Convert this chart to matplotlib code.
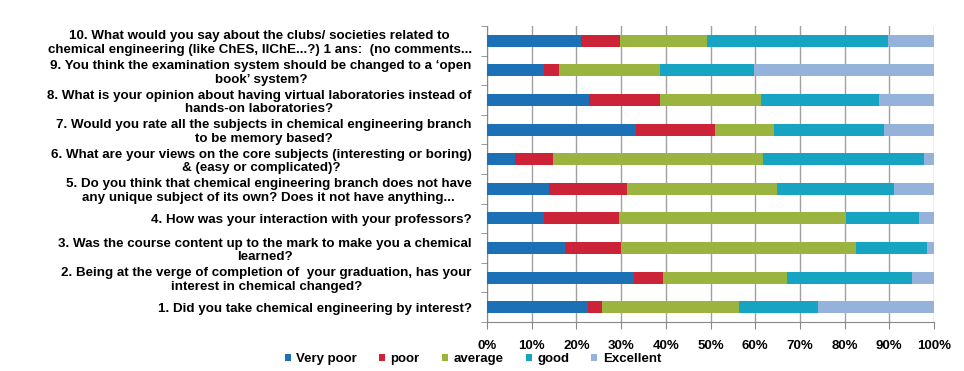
import matplotlib
matplotlib.use("Agg")
import matplotlib.pyplot as plt
import numpy as np
from matplotlib.ticker import PercentFormatter

questions = [
    "1. Did you take chemical engineering by interest?",
    "2. Being at the verge of completion of  your graduation, has your\ninterest in chemical changed?",
    "3. Was the course content up to the mark to make you a chemical\nlearned?",
    "4. How was your interaction with your professors?",
    "5. Do you think that chemical engineering branch does not have\nany unique subject of its own? Does it not have anything...",
    "6. What are your views on the core subjects (interesting or boring)\n& (easy or complicated)?",
    "7. Would you rate all the subjects in chemical engineering branch\nto be memory based?",
    "8. What is your opinion about having virtual laboratories instead of\nhands-on laboratories?",
    "9. You think the examination system should be changed to a \u2018open\nbook\u2019 system?",
    "10. What would you say about the clubs/ societies related to\nchemical engineering (like ChES, IIChE...?) 1 ans:  (no comments...",
]
series_names = ["Very poor", "poor", "average", "good", "Excellent"]
very_poor = [22.5, 32.8, 17.5, 12.8, 13.8, 6.2, 33.3, 22.8, 12.7, 21.0]
poor      = [3.3, 6.5, 12.5, 16.7, 17.5, 8.6, 17.8, 15.9, 3.3, 8.7]
average   = [30.5, 27.9, 52.5, 50.9, 33.5, 47.0, 13.2, 22.7, 22.7, 19.6]
good      = [17.7, 27.9, 15.9, 16.3, 26.3, 36.0, 24.5, 26.3, 21.0, 40.3]
excellent = [26.0, 4.9, 1.6, 3.3, 8.9, 2.2, 11.2, 12.3, 40.3, 10.4]
colors = ["#1c70b6", "#cc2338", "#9bb43f", "#17a3c2", "#95b3da"]

data = [very_poor, poor, average, good, excellent]

plt.rcParams['font.family'] = ['Liberation Sans', 'DejaVu Sans']
fig = plt.figure(figsize=(9.64, 3.71), dpi=100)
ax = fig.add_axes([487/964, 1-322/371, (934-487)/964, (322-26)/371])

y = np.arange(len(questions))
left = np.zeros(len(questions))
for name, vals, c in zip(series_names, data, colors):
    ax.barh(y, vals, left=left, height=0.4, color=c, label=name, zorder=3)
    left += np.array(vals)

ax.set_xlim(0, 100)
ax.set_ylim(-0.5, len(questions) - 0.5)
ax.set_xticks(np.arange(0, 101, 10))
ax.xaxis.set_major_formatter(PercentFormatter(decimals=0))
ax.set_yticks(y)
ax.set_yticklabels(questions, fontsize=9.6, fontweight='bold', multialignment='center', linespacing=1.2)
ax.set_yticks(np.arange(-0.5, len(questions), 1), minor=True)
ax.tick_params(axis='y', which='major', length=0, pad=11)
ax.tick_params(axis='y', which='minor', length=4, color='#888888', direction='out')
ax.tick_params(axis='x', which='major', length=5, color='#888888', direction='out', labelsize=9.5, pad=8)
for lbl in ax.get_xticklabels():
    lbl.set_fontweight('bold')
ax.grid(axis='x', color='#a0a0a0', linewidth=1, zorder=0)
for s in ['top', 'right']:
    ax.spines[s].set_visible(False)
ax.spines['left'].set_color('#888888')
ax.spines['bottom'].set_color('#888888')

leg = fig.legend(loc='center', bbox_to_anchor=(473/964, 1-359/371), ncol=5, frameon=False,
                 prop={'weight': 'bold', 'size': 9.5}, handlelength=0.45, handleheight=0.45,
                 handletextpad=0.4, columnspacing=1.7, borderaxespad=0.0)

fig.savefig("out.png", dpi=100, facecolor='white')
